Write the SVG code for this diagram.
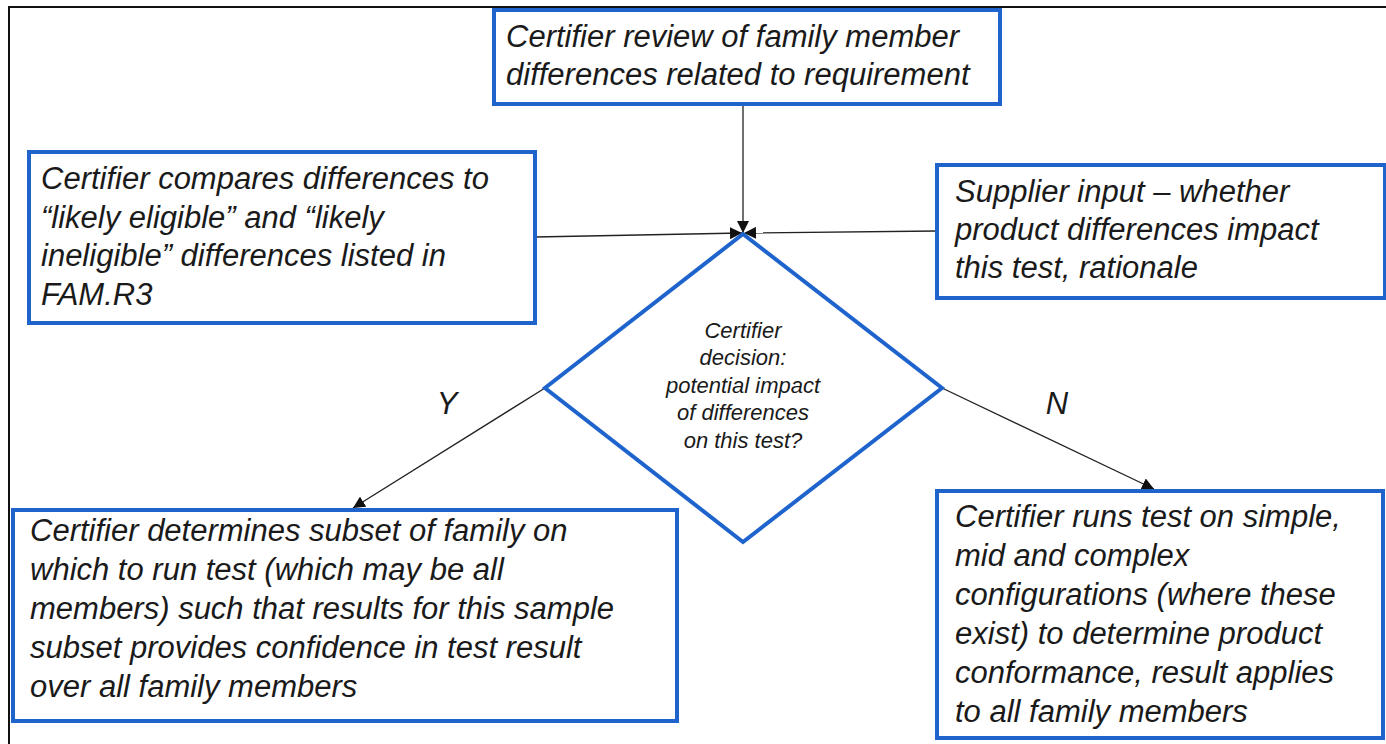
<svg xmlns="http://www.w3.org/2000/svg" width="1386" height="744" viewBox="0 0 1386 744">
<style>
.box{fill:#fff;stroke:#1f64cc;stroke-width:4}
.t{font-family:"Liberation Sans",Arial,sans-serif;font-style:italic;font-size:31px;fill:#1a1a1a}
.d{font-family:"Liberation Sans",Arial,sans-serif;font-style:italic;font-size:22px;fill:#1a1a1a;text-anchor:middle}
.c{stroke:#222;stroke-width:1.3;fill:none;marker-end:url(#ah)}
.lbl{font-family:"Liberation Sans",Arial,sans-serif;font-style:italic;font-size:31px;fill:#1a1a1a;text-anchor:middle}
</style>
<defs>
<marker id="ah" viewBox="0 0 10 10" refX="10" refY="5" markerWidth="12" markerHeight="12" markerUnits="userSpaceOnUse" orient="auto">
<path d="M0,0 L10,5 L0,10 z" fill="#111"/>
</marker>
</defs>
<rect x="0" y="0" width="1386" height="744" fill="#fff"/>
<rect id="frame" x="9" y="7" width="1400" height="760" fill="none" stroke="#111" stroke-width="2"/>
<g id="connectors">
<line class="c" x1="743" y1="104" x2="743" y2="233"/>
<line class="c" x1="535" y1="237" x2="742" y2="233"/>
<line class="c" x1="937" y1="231" x2="744" y2="233"/>
<line class="c" x1="545" y1="388" x2="353" y2="508"/>
<line class="c" x1="942" y1="388" x2="1154" y2="489"/>
<text class="lbl" x="447" y="414">Y</text>
<text class="lbl" x="1057" y="414">N</text>
</g>
<g id="review">
<rect class="box" x="494" y="10" width="506" height="94"/>
<text class="t" x="506" y="47">Certifier review of family member</text>
<text class="t" x="506" y="85">differences related to requirement</text>
</g>
<g id="compare">
<rect class="box" x="29" y="152" width="506" height="171"/>
<text class="t" x="41" y="189">Certifier compares differences to</text>
<text class="t" x="41" y="228">“likely eligible” and “likely</text>
<text class="t" x="41" y="266">ineligible” differences listed in</text>
<text class="t" x="41" y="305">FAM.R3</text>
</g>
<g id="supplier">
<rect class="box" x="937" y="165" width="448" height="133"/>
<text class="t" x="955" y="202">Supplier input – whether</text>
<text class="t" x="955" y="240">product differences impact</text>
<text class="t" x="955" y="278">this test, rationale</text>
</g>
<g id="decision">
<polygon points="743,234 942,388 743,542 545,388" fill="#fff" stroke="#1f64cc" stroke-width="4"/>
<text class="d" x="743" y="338">Certifier</text>
<text class="d" x="743" y="365">decision:</text>
<text class="d" x="743" y="393">potential impact</text>
<text class="d" x="743" y="420">of differences</text>
<text class="d" x="743" y="448">on this test?</text>
</g>
<g id="subset">
<rect class="box" x="13" y="510" width="664" height="211"/>
<text class="t" x="30" y="541">Certifier determines subset of family on</text>
<text class="t" x="30" y="580">which to run test (which may be all</text>
<text class="t" x="30" y="619">members) such that results for this sample</text>
<text class="t" x="30" y="658">subset provides confidence in test result</text>
<text class="t" x="30" y="697">over all family members</text>
</g>
<g id="runs">
<rect class="box" x="937" y="491" width="446" height="247"/>
<text class="t" x="955" y="527">Certifier runs test on simple,</text>
<text class="t" x="955" y="566">mid and complex</text>
<text class="t" x="955" y="605">configurations (where these</text>
<text class="t" x="955" y="644">exist) to determine product</text>
<text class="t" x="955" y="683">conformance, result applies</text>
<text class="t" x="955" y="722">to all family members</text>
</g>
</svg>
